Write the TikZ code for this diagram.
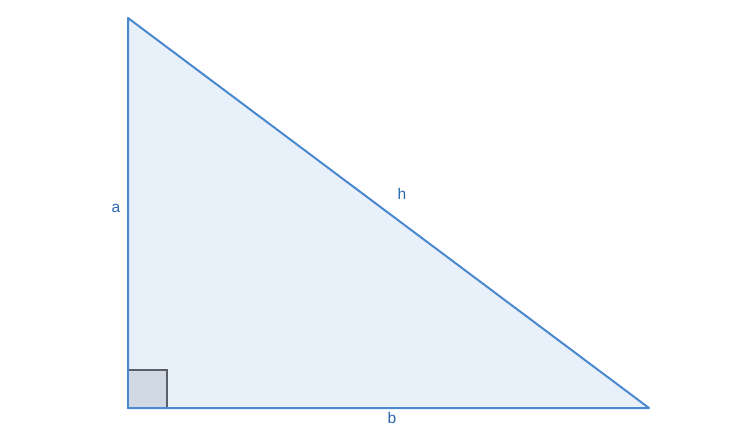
\documentclass[tikz,border=0pt]{standalone}
\usepackage{fontspec}
\setmainfont{Liberation Sans}
\definecolor{edge}{HTML}{4A88D0}
\definecolor{tri}{HTML}{E8F0F9}
\definecolor{lbl}{HTML}{2A68B0}
\definecolor{sqfill}{HTML}{D0D8E3}
\definecolor{sqedge}{HTML}{5A5E66}
\tikzset{
  side/.style={draw=edge, line width=2pt, fill=tri, line join=round},
  rangle/.style={draw=sqedge, line width=2pt, fill=sqfill},
  lab/.style={text=lbl, font=\fontsize{15.5}{18}\selectfont, inner sep=0pt}
}
\begin{document}
\begin{tikzpicture}[x=1pt,y=-1pt]
\useasboundingbox (0,0) rectangle (749,437);
\coordinate (A) at (128,18);
\coordinate (B) at (128,408);
\coordinate (C) at (649,408);
\path[side] (A) -- (B) -- (C) -- cycle;
\coordinate (S1) at (128,370);
\coordinate (S2) at (167,408);
\path[rangle] (S1) rectangle (S2);
\draw[edge, line width=2pt] (A) -- (B) -- (C);
\node[lab] (la) at (116,208) {a};
\node[lab] (lh) at (402,194) {h};
\node[lab] (lb) at (392,418) {b};
\end{tikzpicture}
\end{document}
